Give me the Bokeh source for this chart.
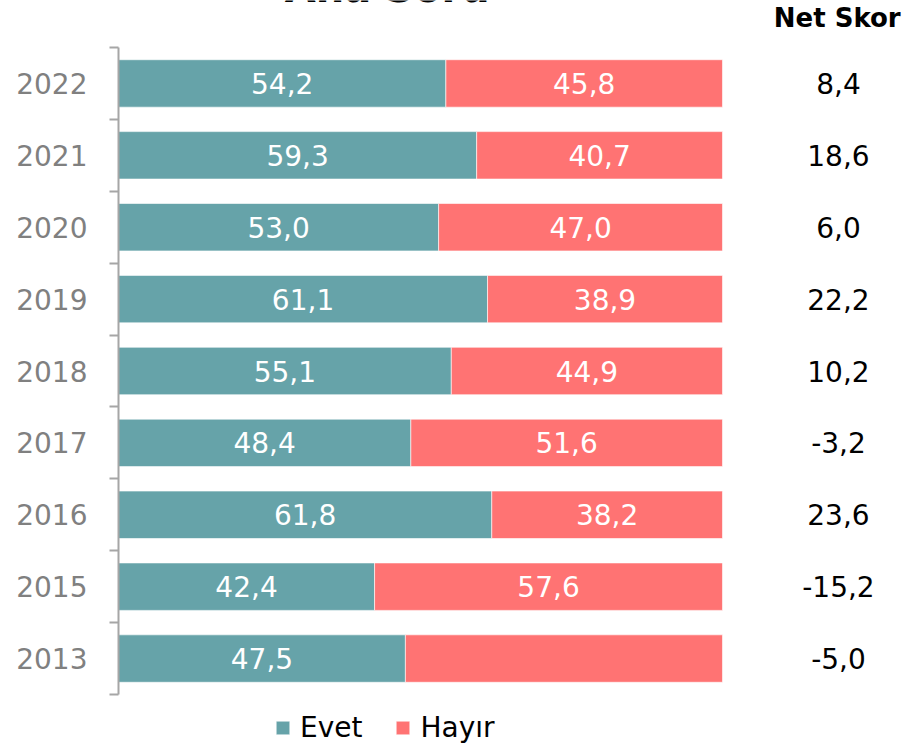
from bokeh.plotting import figure
from bokeh.models import ColumnDataSource, FixedTicker, Legend, LegendItem
from bokeh.core.properties import value
from bokeh.embed import file_html
from bokeh.resources import INLINE

years = ["2022", "2021", "2020", "2019", "2018", "2017", "2016", "2015", "2013"]
evet = [54.2, 59.3, 53.0, 61.1, 55.1, 48.4, 61.8, 42.4, 47.5]
hayir = [45.8, 40.7, 47.0, 38.9, 44.9, 51.6, 38.2, 57.6, 52.5]
hayir_labels = ["45,8", "40,7", "47,0", "38,9", "44,9", "51,6", "38,2", "57,6", ""]
net_skor = ["8,4", "18,6", "6,0", "22,2", "10,2", "-3,2", "23,6", "-15,2", "-5,0"]
title_text = "Ana Soru"
net_header = "Net Skor"

FONT = "DejaVu Sans"
TEAL = "#66A3A9"
RED = "#FF7373"

n = len(years)
ypos = [n - 1 - i for i in range(n)]
evet_labels = [f"{v:.1f}".replace(".", ",") for v in evet]
hayir_right = [e + h for e, h in zip(evet, hayir)]

src = ColumnDataSource(dict(
    y=ypos, evet=evet, hayir_right=hayir_right, zero=[0] * n,
    evet_mid=[e / 2 for e in evet],
    hayir_mid=[(e + r) / 2 for e, r in zip(evet, hayir_right)],
    evet_lab=evet_labels, hayir_lab=hayir_labels,
    net=net_skor, netx=[119.2] * n,
))

W, H = 905, 745
PX = 71.89
Y_TOP = (n - 0.5) + 47 / PX
Y_BOT = -0.5 - (H - 694) / PX
p = figure(width=W, height=H, output_backend="svg", toolbar_location=None,
           x_range=(0, 130.3), y_range=(Y_BOT, Y_TOP),
           min_border_left=118, min_border_right=0, min_border_top=0,
           min_border_bottom=0)
p.outline_line_color = None
p.xgrid.visible = False
p.ygrid.visible = False
p.xaxis.visible = False

r1 = p.hbar(y="y", left="zero", right="evet", height=0.66, source=src,
            fill_color=TEAL, line_color="white", line_alpha=0.6, line_width=1)
r2 = p.hbar(y="y", left="evet", right="hayir_right", height=0.66, source=src,
            fill_color=RED, line_color="white", line_alpha=0.6, line_width=1)

p.text(x="evet_mid", y="y", text="evet_lab", source=src, text_color="white",
       text_font=value(FONT), text_font_size="28px", text_align="center",
       text_baseline="middle")
p.text(x="hayir_mid", y="y", text="hayir_lab", source=src, text_color="white",
       text_font=value(FONT), text_font_size="28px", text_align="center",
       text_baseline="middle")
p.text(x="netx", y="y", text="net", source=src, text_color="black",
       text_font=value(FONT), text_font_size="28px", text_align="center",
       text_baseline="middle")

# column header and (cut-off) chart title
p.text(x=[119.0], y=[Y_TOP - 18 / PX], text=[net_header], text_color="black",
       text_font=value(FONT), text_font_size="26px", text_font_style="bold",
       text_align="center", text_baseline="middle")
p.text(x=[44.5], y=[Y_TOP + 13 / PX], text=[title_text], text_color="black",
       text_font=value(FONT), text_font_size="40px", text_font_style="bold",
       text_align="center", text_baseline="alphabetic")

ax = p.yaxis[0]
ax.bounds = (-0.5, n - 0.5)
ax.ticker = FixedTicker(ticks=ypos, minor_ticks=[k - 0.5 for k in range(n + 1)])
ax.major_label_overrides = {y: yr for y, yr in zip(ypos, years)}
ax.major_tick_in = 0
ax.major_tick_out = 0
ax.minor_tick_in = 0
ax.minor_tick_out = 9
ax.minor_tick_line_color = "#A6A6A6"
ax.minor_tick_line_width = 2
ax.axis_line_color = "#A6A6A6"
ax.axis_line_width = 2
ax.major_label_text_font = FONT
ax.major_label_text_font_size = "28px"
ax.major_label_text_color = "#808080"
ax.major_label_standoff = 22

legend = Legend(items=[LegendItem(label="Evet", renderers=[r1]),
                       LegendItem(label="Hayır", renderers=[r2])],
                orientation="horizontal", location=(156, 1),
                label_text_font=FONT, label_text_font_size="28px",
                label_text_color="black",
                glyph_width=17, glyph_height=17, label_standoff=9, spacing=32,
                padding=0, margin=0, border_line_color=None,
                background_fill_alpha=0)
p.add_layout(legend)

open("out.html", "w").write(file_html(p, INLINE))
